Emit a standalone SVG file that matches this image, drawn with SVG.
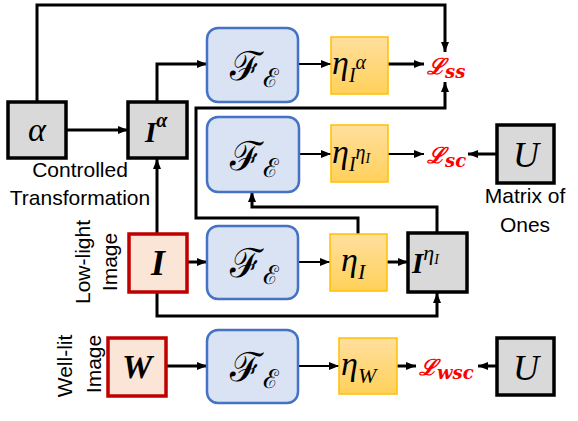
<svg xmlns="http://www.w3.org/2000/svg" width="578" height="421" viewBox="0 0 578 421">
<defs>
<linearGradient id="og" x1="0" y1="0" x2="0" y2="1">
<stop offset="0" stop-color="#ffdf9e"/>
<stop offset="1" stop-color="#ffd15a"/>
</linearGradient>
<marker id="ah" markerUnits="userSpaceOnUse" markerWidth="10" markerHeight="8" refX="10" refY="4" orient="auto">
<path d="M0,0 L10,4 L0,8 z" fill="#000"/>
</marker>
<style>
.gray{fill:#d9d9d9;stroke:#000;stroke-width:3.5}
.red{fill:#fbe5d6;stroke:#c00000;stroke-width:3.5}
.blue{fill:#dae3f3;stroke:#4472c4;stroke-width:2.5}
.eta{fill:url(#og);stroke:#ffc000;stroke-width:1.5}
.c{fill:none;stroke:#000;stroke-width:3;stroke-linejoin:miter}
.a{marker-end:url(#ah)}
.m{font-family:"Liberation Serif","DejaVu Serif",serif;font-style:italic;fill:#000}
.sc{font-family:"DejaVu Serif","Liberation Serif",serif;fill:#000}
.b{font-family:"Liberation Serif",serif;font-style:italic;font-weight:bold;fill:#000}
.L{font-family:"DejaVu Serif","Liberation Serif",serif;font-style:italic;font-weight:bold;fill:#ff0000}
.t{font-family:"Liberation Sans",Arial,sans-serif;font-size:21px;fill:#000}
</style>
</defs>
<g id="connectors">
<path class="c a" d="M37,102 V5 H445 V52"/>
<path class="c a" d="M66,130 H128"/>
<path class="c a" d="M157,102 V64 H207"/>
<path class="c a" d="M298,64 H331" style="stroke-width:2"/>
<path class="c a" d="M388,64 H424"/>
<path class="c a" d="M358,234 V218 H196 V108 H445 V82"/>
<path class="c a" d="M299,154 H331" style="stroke-width:2"/>
<path class="c a" d="M388,154 H424" style="stroke-width:2"/>
<path class="c a" d="M497,154 H468"/>
<path class="c a" d="M437,233 V207 H252 V192"/>
<path class="c a" d="M157,234 V159"/>
<path class="c a" d="M187,262 H207"/>
<path class="c a" d="M298,262 H330" style="stroke-width:2"/>
<path class="c a" d="M387,262 H408"/>
<path class="c a" d="M157,292 V316 H437 V293"/>
<path class="c a" d="M166,366 H207"/>
<path class="c a" d="M298,366 H339" style="stroke-width:2"/>
<path class="c a" d="M397,366 H416"/>
<path class="c a" d="M497,366 H478"/>
</g>
<g id="alpha">
<rect class="gray" x="8" y="102" width="58" height="56"/>
<text class="m" x="37" y="141" font-size="34" text-anchor="middle">α</text>
<text class="t" x="80" y="177" text-anchor="middle">Controlled</text>
<text class="t" x="80" y="205" text-anchor="middle">Transformation</text>
</g>
<g id="Ialpha">
<rect class="gray" x="128" y="102" width="59" height="56"/>
<text x="145" y="142"><tspan class="b" font-size="29">I</tspan><tspan class="b" font-size="20" dy="-15">α</tspan></text>
</g>
<g id="F1">
<rect class="blue" x="207" y="28" width="91" height="74" rx="11"/>
<text class="sc" x="230" y="80"><tspan font-size="40">ℱ</tspan><tspan font-size="26" dy="7">ℰ</tspan></text>
</g>
<g id="eta1">
<rect class="eta" x="331" y="37" width="57" height="57"/>
<text class="m" x="332" y="74"><tspan font-size="34">η</tspan><tspan font-size="20" dy="8">I</tspan><tspan font-size="20" dy="-13">α</tspan></text>
</g>
<g id="Lss">
<text class="L" x="427" y="74"><tspan font-size="22">ℒ</tspan><tspan font-size="18" dy="4">ss</tspan></text>
</g>
<g id="F2">
<rect class="blue" x="207" y="117" width="92" height="75" rx="11"/>
<text class="sc" x="230" y="170"><tspan font-size="40">ℱ</tspan><tspan font-size="26" dy="7">ℰ</tspan></text>
</g>
<g id="eta2">
<rect class="eta" x="331" y="125" width="57" height="57"/>
<text class="m" x="332" y="163"><tspan font-size="34">η</tspan><tspan font-size="20" dy="8">I</tspan><tspan font-size="20" dy="-12">η</tspan><tspan font-size="14" dy="4">I</tspan></text>
</g>
<g id="Lsc">
<text class="L" x="427" y="163"><tspan font-size="22">ℒ</tspan><tspan font-size="18" dy="4">sc</tspan></text>
</g>
<g id="U1">
<rect class="gray" x="497" y="125" width="57" height="58"/>
<text class="m" x="526" y="167" font-size="36" text-anchor="middle">U</text>
<text class="t" x="525" y="203" text-anchor="middle">Matrix of</text>
<text class="t" x="525" y="232" text-anchor="middle">Ones</text>
</g>
<g id="I">
<rect class="red" x="129" y="234" width="58" height="58"/>
<text class="b" x="158" y="275" font-size="36" text-anchor="middle">I</text>
<text class="t" transform="translate(90,262) rotate(-90)" text-anchor="middle">Low-light</text>
<text class="t" transform="translate(117,262) rotate(-90)" text-anchor="middle">Image</text>
</g>
<g id="F3">
<rect class="blue" x="207" y="226" width="91" height="73" rx="11"/>
<text class="sc" x="230" y="277"><tspan font-size="40">ℱ</tspan><tspan font-size="26" dy="7">ℰ</tspan></text>
</g>
<g id="eta3">
<rect class="eta" x="330" y="234" width="57" height="57"/>
<text class="m" x="341" y="271"><tspan font-size="34">η</tspan><tspan font-size="22" dy="8">I</tspan></text>
</g>
<g id="IetaI">
<rect class="gray" x="408" y="233" width="59" height="59"/>
<text x="412" y="273"><tspan class="b" font-size="29">I</tspan><tspan class="m" font-size="22" dy="-13">η</tspan><tspan class="m" font-size="14" dy="4">I</tspan></text>
</g>
<g id="W">
<rect class="red" x="108" y="338" width="58" height="58"/>
<text class="b" x="137" y="378" font-size="34" text-anchor="middle">W</text>
<text class="t" transform="translate(72,366) rotate(-90)" text-anchor="middle">Well-lit</text>
<text class="t" transform="translate(101,364) rotate(-90)" text-anchor="middle">Image</text>
</g>
<g id="F4">
<rect class="blue" x="207" y="330" width="91" height="73" rx="11"/>
<text class="sc" x="230" y="381"><tspan font-size="40">ℱ</tspan><tspan font-size="26" dy="7">ℰ</tspan></text>
</g>
<g id="eta4">
<rect class="eta" x="339" y="338" width="58" height="56"/>
<text class="m" x="341" y="375"><tspan font-size="34">η</tspan><tspan font-size="22" dy="8">W</tspan></text>
</g>
<g id="Lwsc">
<text class="L" x="419" y="375"><tspan font-size="22">ℒ</tspan><tspan font-size="18" dy="4">wsc</tspan></text>
</g>
<g id="U2">
<rect class="gray" x="497" y="338" width="57" height="57"/>
<text class="m" x="526" y="380" font-size="36" text-anchor="middle">U</text>
</g>
</svg>
